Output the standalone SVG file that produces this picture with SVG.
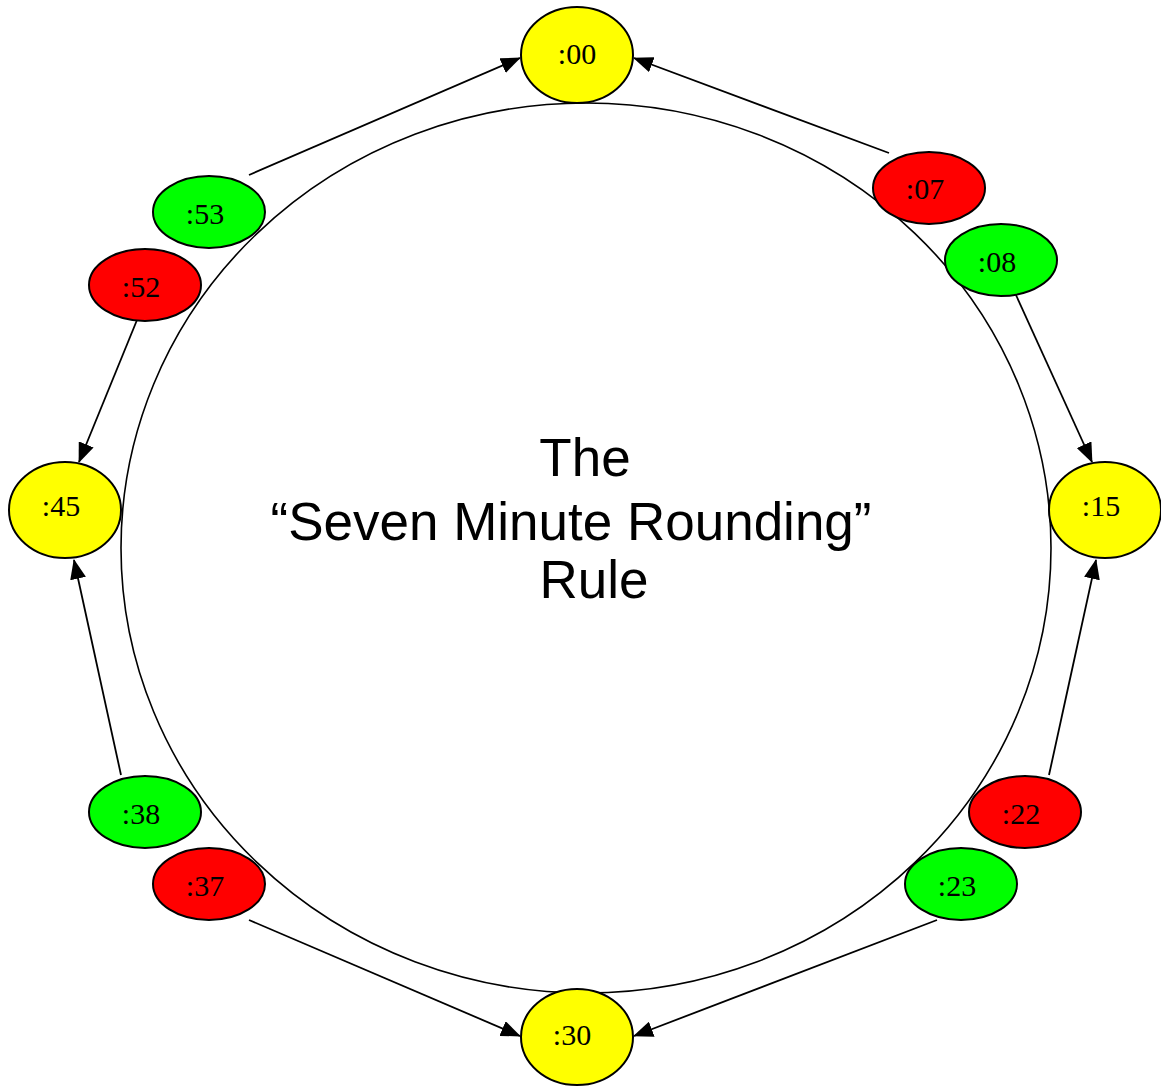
<svg xmlns="http://www.w3.org/2000/svg" width="1161" height="1090" viewBox="0 0 1161 1090">
<style>
.n{stroke:#000;stroke-width:2}
.y{fill:#ffff00}.r{fill:#ff0000}.g{fill:#00ff00}
.t{font-family:"Liberation Serif","Times New Roman",serif;font-size:30px;fill:#000;text-anchor:middle}
.c{stroke:#000;stroke-width:1.8;fill:none;marker-end:url(#ah)}
.title{font-family:"Liberation Sans",Arial,sans-serif;font-size:53px;fill:#000;text-anchor:middle}
</style>
<defs>
<marker id="ah" viewBox="0 0 20 16" refX="19" refY="8" markerWidth="20" markerHeight="16" markerUnits="userSpaceOnUse" orient="auto">
<polygon points="0,0 20,8 0,16" fill="#000"/>
</marker>
</defs>
<rect width="1161" height="1090" fill="#fff"/>
<g id="bigcircle">
<ellipse cx="586" cy="548" rx="465" ry="445" fill="none" stroke="#000" stroke-width="1.6"/>
<text class="title" x="585" y="476">The</text>
<text class="title" x="571" y="540">“Seven Minute Rounding”</text>
<text class="title" x="594" y="598">Rule</text>
</g>
<g id="connectors">
<line class="c" x1="249" y1="175" x2="520" y2="58"/>
<line class="c" x1="889" y1="153" x2="634" y2="58"/>
<line class="c" x1="1016" y1="295" x2="1092" y2="462"/>
<line class="c" x1="1049" y1="775" x2="1096" y2="560"/>
<line class="c" x1="937" y1="920" x2="634" y2="1036"/>
<line class="c" x1="249" y1="920" x2="520" y2="1036"/>
<line class="c" x1="121" y1="775" x2="74" y2="560"/>
<line class="c" x1="137" y1="320" x2="79" y2="462"/>
</g>
<g id="n00"><ellipse class="n y" cx="577" cy="55" rx="56" ry="48"/><text class="t" x="577" y="64">:00</text></g>
<g id="n15"><ellipse class="n y" cx="1105" cy="510" rx="56" ry="48"/><text class="t" x="1101" y="516">:15</text></g>
<g id="n30"><ellipse class="n y" cx="577" cy="1037" rx="56" ry="48"/><text class="t" x="572" y="1045">:30</text></g>
<g id="n45"><ellipse class="n y" cx="65" cy="510" rx="56" ry="48"/><text class="t" x="61" y="516">:45</text></g>
<g id="n07"><ellipse class="n r" cx="929" cy="188" rx="56" ry="36"/><text class="t" x="925" y="199">:07</text></g>
<g id="n08"><ellipse class="n g" cx="1001" cy="260" rx="56" ry="36"/><text class="t" x="997" y="272">:08</text></g>
<g id="n22"><ellipse class="n r" cx="1025" cy="812" rx="56" ry="36"/><text class="t" x="1021" y="824">:22</text></g>
<g id="n23"><ellipse class="n g" cx="961" cy="884" rx="56" ry="36"/><text class="t" x="957" y="896">:23</text></g>
<g id="n37"><ellipse class="n r" cx="209" cy="884" rx="56" ry="36"/><text class="t" x="205" y="896">:37</text></g>
<g id="n38"><ellipse class="n g" cx="145" cy="812" rx="56" ry="36"/><text class="t" x="141" y="824">:38</text></g>
<g id="n52"><ellipse class="n r" cx="145" cy="285" rx="56" ry="36"/><text class="t" x="141" y="297">:52</text></g>
<g id="n53"><ellipse class="n g" cx="209" cy="212" rx="56" ry="36"/><text class="t" x="205" y="224">:53</text></g>
</svg>
